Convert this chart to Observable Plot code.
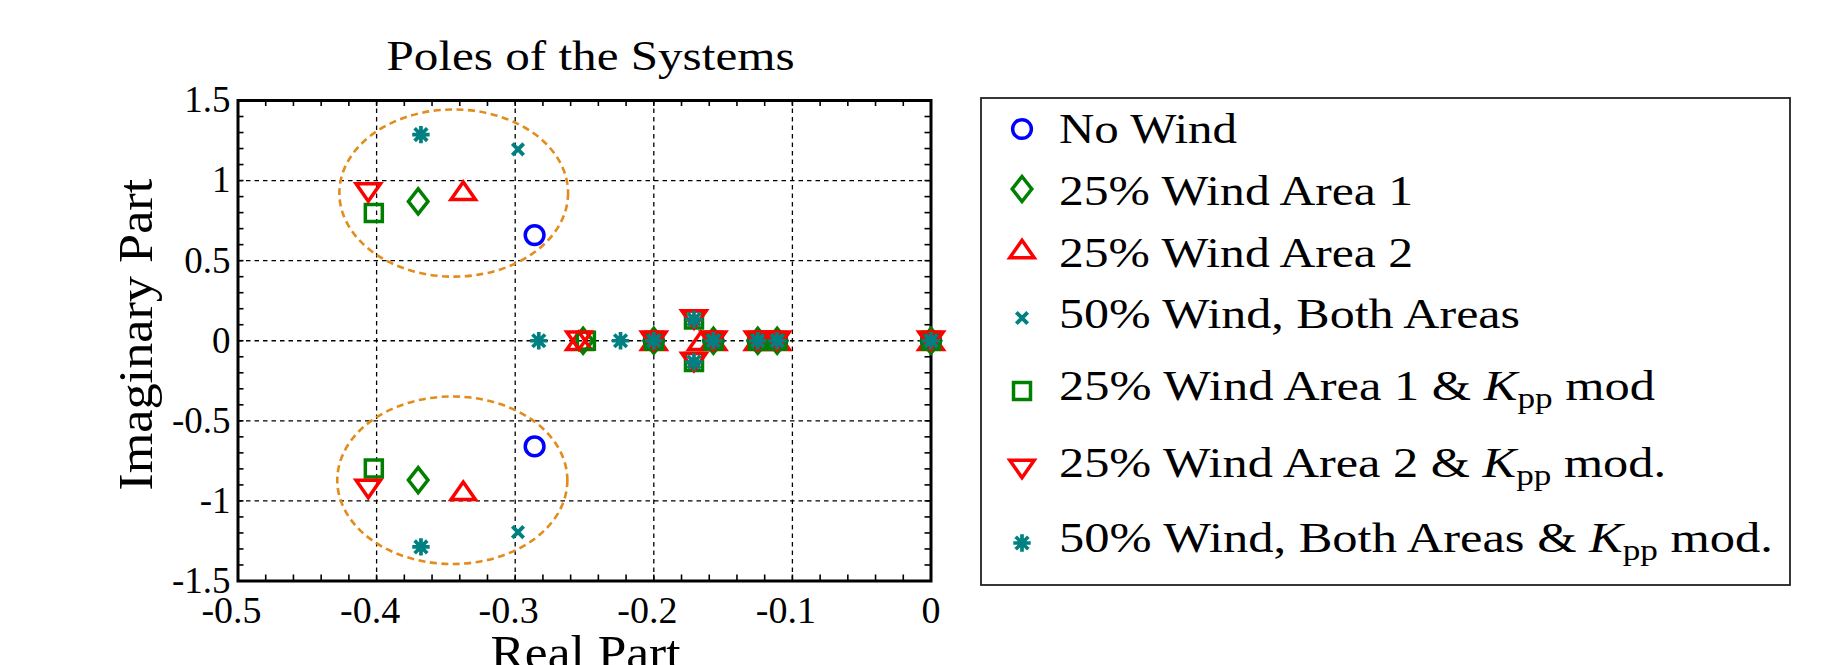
<!DOCTYPE html>
<html>
<head>
<meta charset="utf-8">
<script src="https://cdn.jsdelivr.net/npm/d3@7"></script>
<script src="https://cdn.jsdelivr.net/npm/@observablehq/plot@0.6"></script>
<style>
  html, body { margin: 0; padding: 0; background: #fff; }
  #wrap { position: relative; width: 1841px; height: 665px; overflow: hidden; }
  #wrap svg { position: absolute; left: 0; top: 0; }
</style>
</head>
<body>
<div id="wrap"></div>
<script>
// ---- Data -------------------------------------------------------------
const seriesNames = [
  "No Wind",
  "25% Wind Area 1",
  "25% Wind Area 2",
  "50% Wind, Both Areas",
  "25% Wind Area 1 & Kpp mod",
  "25% Wind Area 2 & Kpp mod.",
  "50% Wind, Both Areas & Kpp mod."
];
const seriesColors = ["#0000ff", "#008000", "#ff0000", "#008080", "#008000", "#ff0000", "#008080"];

// Legend text: plain part, whether K_pp follows, and the trailing part
const legendHead = ["No Wind", "25% Wind Area 1", "25% Wind Area 2", "50% Wind, Both Areas",
  "25% Wind Area 1 & ", "25% Wind Area 2 & ", "50% Wind, Both Areas & "];
const legendKpp = [false, false, false, false, true, true, true];
const legendTail = ["", "", "", "", " mod", " mod.", " mod."];

// Poles [real, imaginary] of each system
const polesNoWind = [[-0.286, 0.66], [-0.286, -0.66], [-0.2, 0], [-0.157, 0], [-0.125, 0], [-0.111, 0], [0, 0]];
const polesArea1 = [[-0.370, 0.87], [-0.370, -0.87], [-0.251, 0], [-0.2, 0], [-0.157, 0], [-0.125, 0], [-0.111, 0], [0, 0]];
const polesArea2 = [[-0.3375, 0.937], [-0.3375, -0.937], [-0.254, 0], [-0.2, 0], [-0.166, 0], [-0.157, 0], [-0.125, 0], [-0.111, 0], [0, 0]];
const polesBoth = [[-0.298, 1.195], [-0.298, -1.195], [-0.2, 0], [-0.157, 0], [-0.125, 0], [-0.111, 0], [0, 0]];
const polesArea1Kpp = [[-0.402, 0.797], [-0.402, -0.797], [-0.249, 0], [-0.2, 0], [-0.171, 0.133], [-0.171, -0.133], [-0.157, 0], [-0.125, 0], [-0.111, 0], [0, 0]];
const polesArea2Kpp = [[-0.406, 0.926], [-0.406, -0.926], [-0.254, 0], [-0.2, 0], [-0.171, 0.133], [-0.171, -0.133], [-0.157, 0], [-0.125, 0], [-0.111, 0], [0, 0]];
const polesBothKpp = [[-0.368, 1.287], [-0.368, -1.287], [-0.283, 0], [-0.224, 0], [-0.2, 0], [-0.171, 0.133], [-0.171, -0.133], [-0.157, 0], [-0.125, 0], [-0.111, 0], [0, 0]];
const poleSets = [polesNoWind, polesArea1, polesArea2, polesBoth, polesArea1Kpp, polesArea2Kpp, polesBothKpp];

// Dashed rings around the dominant oscillatory pole pairs
const ringCx = [-0.344, -0.345];
const ringCy = [0.919, -0.874];
const ringRx = [0.0825, 0.083];
const ringRy = [0.522, 0.523];

// Axis ticks and their labels
const xMajor = [-0.5, -0.4, -0.3, -0.2, -0.1, 0];
const xTickLabels = ["-0.5", "-0.4", "-0.3", "-0.2", "-0.1", "0"];
const yMajor = [1.5, 1, 0.5, 0, -0.5, -1, -1.5];
const yTickLabels = ["1.5", "1", "0.5", "0", "-0.5", "-1", "-1.5"];
const xMinor = d3.range(-50, 1, 2).map(v => v / 100);
const yMinor = d3.range(-15, 16, 1).map(v => v / 10);

const titleText = "Poles of the Systems";
const xLabelText = "Real Part";
const yLabelText = "Imaginary Part";

// ---- Marker shapes (nominal r = 9) --------------------------------------
const MARK_R = 9.8;
const unit = s => Math.sqrt(s / Math.PI) / 9;
const symCircle = { draw(c, s) { const k = unit(s); c.moveTo(8.6 * k, 0); c.arc(0, 0, 8.6 * k, 0, 2 * Math.PI); } };
const symDiamond = { draw(c, s) { const k = unit(s); c.moveTo(0, -11.5 * k); c.lineTo(9 * k, 0); c.lineTo(0, 11.5 * k); c.lineTo(-9 * k, 0); c.closePath(); } };
const symTriUp = { draw(c, s) { const k = unit(s); c.moveTo(0, -8 * k); c.lineTo(11.2 * k, 8 * k); c.lineTo(-11.2 * k, 8 * k); c.closePath(); } };
const symTriDown = { draw(c, s) { const k = unit(s); c.moveTo(0, 8 * k); c.lineTo(11.2 * k, -8 * k); c.lineTo(-11.2 * k, -8 * k); c.closePath(); } };
const symSquare = { draw(c, s) { const k = unit(s), h = 7.8 * k; c.moveTo(-h, -h); c.lineTo(h, -h); c.lineTo(h, h); c.lineTo(-h, h); c.closePath(); } };
const symX = { draw(c, s) { const k = unit(s), h = 5.2 * k; c.moveTo(-h, -h); c.lineTo(h, h); c.moveTo(h, -h); c.lineTo(-h, h); } };
const symStar = { draw(c, s) { const k = unit(s), h = 8 * k, d = 5.8 * k;
  c.moveTo(-h, 0); c.lineTo(h, 0); c.moveTo(0, -h); c.lineTo(0, h);
  c.moveTo(-d, -d); c.lineTo(d, d); c.moveTo(d, -d); c.lineTo(-d, d); } };
const seriesSymbols = [symCircle, symDiamond, symTriUp, symX, symSquare, symTriDown, symStar];
const seriesStrokeWidth = [3.5, 3.5, 3.5, 3.9, 3.5, 3.5, 3.7];

// ---- Tidy table for the dot mark ---------------------------------------
const poles = poleSets.flatMap((set, i) => set.map(([re, im]) => ({ series: seriesNames[i], re, im, sw: seriesStrokeWidth[i] })));
const rings = ringCx.map((cx, i) => ({ cx, cy: ringCy[i], rx: ringRx[i], ry: ringRy[i] }));

const FONT = "Liberation Serif";
const W = 1841, H = 665;
const mL = 237.5, mR = 910.5, mT = 100, mB = 84.5;
const frameH = H - mT - mB, frameW = W - mL - mR;

// widen serif words to the metrics of the typeset labels
const stretched = (len) => (index, scales, values, dims, ctx, next) => {
  const g = next(index, scales, values, dims, ctx);
  d3.select(g).selectAll("text").attr("textLength", len).attr("lengthAdjust", "spacingAndGlyphs");
  return g;
};

const chart = Plot.plot({
  width: W, height: H,
  marginLeft: mL, marginRight: mR, marginTop: mT, marginBottom: mB,
  x: { domain: [-0.5, 0], axis: null },
  y: { domain: [-1.5, 1.5], axis: null },
  symbol: { domain: seriesNames, range: seriesSymbols },
  color: { domain: seriesNames, range: seriesColors },
  style: { fontFamily: FONT, background: "white", color: "black", overflow: "visible" },
  marks: [
    // dotted grid
    Plot.ruleX(xMajor.slice(1, -1), { stroke: "black", strokeWidth: 1.3, strokeDasharray: "4.5,4" }),
    Plot.ruleY(yMajor.slice(1, -1), { stroke: "black", strokeWidth: 1.3, strokeDasharray: "4.5,4" }),
    // inward minor ticks on all four sides
    Plot.ruleX(xMinor, { stroke: "black", strokeWidth: 1.6, insetTop: frameH - 6 }),
    Plot.ruleX(xMinor, { stroke: "black", strokeWidth: 1.6, insetBottom: frameH - 6 }),
    Plot.ruleY(yMinor, { stroke: "black", strokeWidth: 1.6, insetRight: frameW - 6 }),
    Plot.ruleY(yMinor, { stroke: "black", strokeWidth: 1.6, insetLeft: frameW - 6 }),
    Plot.frame({ stroke: "black", strokeWidth: 3 }),
    // tick labels
    Plot.text(xMajor.slice(0, -1), { x: d => d, text: (d, i) => xTickLabels[i], frameAnchor: "bottom", lineAnchor: "top", dy: 15.5, dx: -6.5, fontSize: 38, fill: "black" }),
    Plot.text(xMajor.slice(-1), { x: d => d, text: () => xTickLabels[xTickLabels.length - 1], frameAnchor: "bottom", lineAnchor: "top", dy: 15.5, fontSize: 38, fill: "black" }),
    Plot.text(yMajor, { y: d => d, text: (d, i) => yTickLabels[i], frameAnchor: "left", textAnchor: "end", lineAnchor: "middle", dx: -7.5, fontSize: 37, fill: "black" }),
    // dashed rings
    Plot.dot(rings, {
      x: "cx", y: "cy",
      render(index, scales, values, dims, ctx) {
        const g = d3.create("svg:g");
        for (const i of index) {
          const r = rings[i];
          g.append("ellipse")
            .attr("cx", scales.x(r.cx)).attr("cy", scales.y(r.cy))
            .attr("rx", Math.abs(scales.x(r.cx + r.rx) - scales.x(r.cx)))
            .attr("ry", Math.abs(scales.y(r.cy + r.ry) - scales.y(r.cy)))
            .attr("fill", "none").attr("stroke", "#e38c1c")
            .attr("stroke-width", 2.6).attr("stroke-dasharray", "7,4.5");
        }
        return g.node();
      }
    }),
    // poles
    Plot.dot(poles, { x: "re", y: "im", symbol: "series", stroke: "series", r: MARK_R, fill: "none", strokeWidth: "sw", strokeLinejoin: "miter" }),
    // title and axis labels
    Plot.text([titleText], { frameAnchor: "top", textAnchor: "middle", lineAnchor: "middle", dx: 6, dy: -44, fontSize: 43, fill: "black", render: stretched(408) }),
    Plot.text([xLabelText], { frameAnchor: "bottom", textAnchor: "middle", lineAnchor: "middle", dx: 1, dy: 72.9, fontSize: 48, fill: "black", render: stretched(190) }),
    Plot.text([yLabelText], { frameAnchor: "left", textAnchor: "middle", lineAnchor: "middle", rotate: -90, dx: -100.9, dy: -6, fontSize: 48, fill: "black", render: stretched(312) })
  ]
});

document.getElementById("wrap").appendChild(chart);

// ---- Legend box ------------------------------------------------------
const svg = d3.select(chart);
const lg = svg.append("g").attr("font-family", FONT).attr("fill", "black").attr("text-anchor", "start");
lg.append("rect").attr("x", 981).attr("y", 98).attr("width", 809).attr("height", 487)
  .attr("fill", "white").attr("stroke", "#222").attr("stroke-width", 1.8);
const markerY = [129, 189, 249, 318, 391, 469, 543];
const textY = [143, 205, 267, 328, 400, 477, 552];
const textW = [178, 354, 354, 461, 596, 607, 714];
seriesNames.forEach((name, i) => {
  lg.append("path")
    .attr("transform", `translate(1022,${markerY[i]})`)
    .attr("d", d3.symbol(seriesSymbols[i], Math.PI * MARK_R * MARK_R)())
    .attr("fill", "none").attr("stroke", seriesColors[i])
    .attr("stroke-width", seriesStrokeWidth[i]).attr("stroke-linejoin", "miter");
  const t = lg.append("text").attr("x", 1059).attr("y", textY[i]).attr("font-size", 43)
    .attr("text-anchor", "start")
    .attr("textLength", textW[i]).attr("lengthAdjust", "spacingAndGlyphs");
  t.append("tspan").text(legendHead[i]);
  if (legendKpp[i]) {
    t.append("tspan").attr("font-style", "italic").text("K");
    t.append("tspan").attr("font-size", 30).attr("dy", 7.5).text("pp");
    t.append("tspan").attr("dy", -7.5).text(legendTail[i]);
  }
});
</script>
</body>
</html>
